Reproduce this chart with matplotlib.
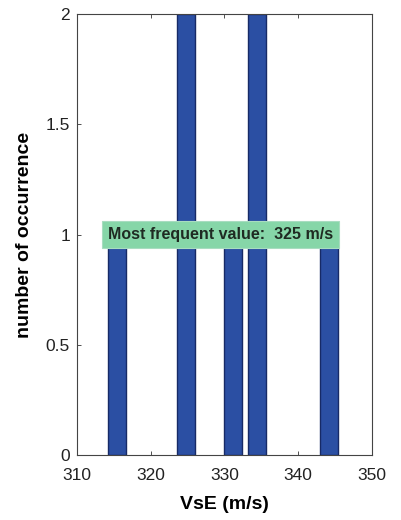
import matplotlib
matplotlib.use("Agg")
import matplotlib.pyplot as plt

plt.rcParams['font.family'] = ['Liberation Sans', 'DejaVu Sans']

# histogram of VsE values (bin centres in m/s, counts)
bin_centres = [315.4, 324.8, 331.2, 334.4, 344.2]
counts = [1, 2, 1, 2, 1]
bar_width = 2.4

x_ticks = [310, 320, 330, 340, 350]
y_ticks = [0, 0.5, 1, 1.5, 2]
y_tick_labels = ['0', '0.5', '1', '1.5', '2']

fig = plt.figure(figsize=(4.02, 5.2), dpi=100)
ax = fig.add_axes([0.1915, 0.125, 0.7335, 0.848])

ax.bar(bin_centres, counts, width=bar_width, color='#2b4fa3',
       edgecolor='#172a66', linewidth=1.0, zorder=2)

ax.set_xlim(310, 350)
ax.set_ylim(0, 2)
ax.set_xticks(x_ticks)
ax.set_yticks(y_ticks)
ax.set_yticklabels(y_tick_labels)
ax.tick_params(direction='in', length=3, width=0.6, labelsize=12.5,
               top=True, right=False, colors='#333333')
ax.tick_params(axis='x', pad=9)
ax.tick_params(axis='y', pad=5)
ax.tick_params(axis='both', labelcolor='#222222')
for s in ax.spines.values():
    s.set_linewidth(0.8)
    s.set_color('#444444')

ax.set_xlabel('VsE (m/s)', fontsize=14, fontweight='bold', labelpad=10)
ax.set_ylabel('number of occurrence', fontsize=14, fontweight='bold', labelpad=9)

ax.text(314.2, 1.0, 'Most frequent value:  325 m/s', fontsize=11.5,
        fontweight='bold', color='#1f2a22', va='center', ha='left', zorder=3,
        bbox=dict(boxstyle='square,pad=0.4', facecolor='#86d6a8',
                  edgecolor='#a8dcc0', linewidth=0.8))

fig.savefig('out.png', dpi=100)
